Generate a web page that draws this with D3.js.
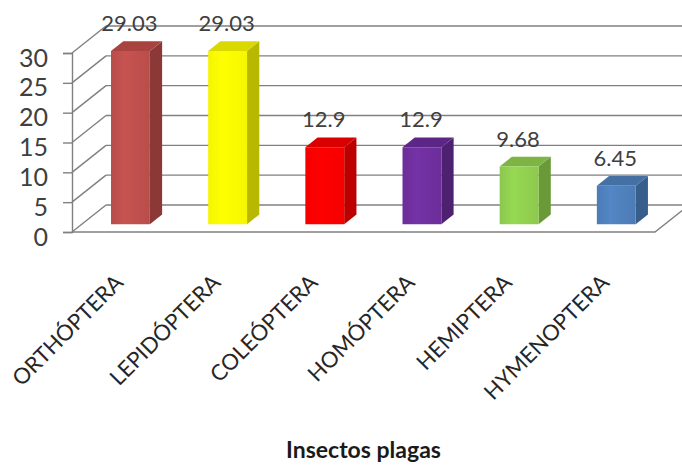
<!DOCTYPE html>
<html>
<head>
<meta charset="utf-8">
<script src="https://cdn.jsdelivr.net/npm/d3@7"></script>
<style>
  html, body { margin: 0; padding: 0; background: #fff; }
  svg { display: block; }
</style>
</head>
<body>
<svg id="chart" width="682" height="467"></svg>
<script>
// Porcentaje de insectos plaga por orden
const categories = ["ORTHÓPTERA", "LEPIDÓPTERA", "COLEÓPTERA", "HOMÓPTERA", "HEMIPTERA", "HYMENOPTERA"];
const values = [29.03, 29.03, 12.9, 12.9, 9.68, 6.45];
const valueLabels = ["29.03", "29.03", "12.9", "12.9", "9.68", "6.45"];
const yTicks = [0, 5, 10, 15, 20, 25, 30];
const axisTitle = "Insectos plagas";

// colours per bar: front, side, top
const frontColors = ["#C0504D", "#FFFF00", "#FF0000", "#7030A0", "#92D050", "#4F81BD"];
const sideColors  = ["#8C3836", "#B8B800", "#BC0000", "#4E2070", "#6A9A38", "#385E8B"];
const topColors   = ["#A8433F", "#D9D900", "#DA0000", "#5C2686", "#7DB443", "#4470A4"];

const svg = d3.select("#chart");
svg.append("rect").attr("width", 682).attr("height", 467).attr("fill", "#fff");

// oblique 3D projection: depth z in [0,1]
const depthX = 34, depthY = -27;
const x = d3.scaleBand().domain(categories).range([72, 655]).paddingInner(0.6).paddingOuter(0.3);
const y = d3.scaleLinear().domain([0, 30]).range([232, 53]);
const P = (px, v, z) => [px + z * depthX, y(v) + z * depthY];
const barZ0 = 0.29, barZ1 = 0.65;

const gridColor = "#808080";
const grid = svg.append("g").attr("stroke", gridColor).attr("stroke-width", 1.4).attr("fill", "none");

// back wall gridlines
yTicks.forEach(v => {
  const a = P(72, v, 1), b = P(655, v, 1);
  grid.append("line").attr("x1", a[0]).attr("y1", a[1]).attr("x2", b[0]).attr("y2", b[1]);
});
// side wall diagonals
yTicks.forEach(v => {
  const a = P(72, v, 0), b = P(72, v, 1);
  grid.append("line").attr("x1", a[0]).attr("y1", a[1]).attr("x2", b[0]).attr("y2", b[1]);
});
// floor edges
{
  const a = P(72, 0, 0), b = P(655, 0, 0), c = P(655, 0, 1);
  grid.append("path").attr("d", `M${a}L${b}L${c}`);
}

// vertical axis
const yAxis = svg.append("g")
  .attr("transform", "translate(72,0)")
  .call(d3.axisLeft(y).tickValues(yTicks).tickSize(9).tickPadding(15).tickFormat(d3.format("d")));
yAxis.select(".domain").attr("stroke", gridColor).attr("stroke-width", 1.4);
yAxis.selectAll(".tick line").attr("stroke", gridColor).attr("stroke-width", 1.4);
yAxis.selectAll(".tick text")
  .attr("font-family", "Lato, 'Noto Sans', sans-serif")
  .attr("font-size", 25)
  .attr("fill", "#404040")
  .attr("dy", "0.72em")
  .attr("y", -5);

// gentle shading on the front faces
const defs = svg.append("defs");
frontColors.forEach((c, i) => {
  const g = defs.append("linearGradient").attr("id", "front" + i)
    .attr("x1", "0").attr("x2", "1").attr("y1", "0").attr("y2", "0");
  g.append("stop").attr("offset", "0").attr("stop-color", d3.color(c).darker(0.12));
  g.append("stop").attr("offset", "0.35").attr("stop-color", d3.color(c).brighter(0.1));
  g.append("stop").attr("offset", "1").attr("stop-color", d3.color(c).darker(0.1));
});

// bars
const bars = svg.append("g");
categories.forEach((cat, i) => {
  const v = values[i];
  const x0 = x(cat), x1 = x(cat) + x.bandwidth();
  const fbl = P(x0, 0, barZ0), fbr = P(x1, 0, barZ0), ftl = P(x0, v, barZ0), ftr = P(x1, v, barZ0);
  const bbr = P(x1, 0, barZ1), btl = P(x0, v, barZ1), btr = P(x1, v, barZ1);
  const g = bars.append("g");
  g.append("path").attr("d", `M${fbr}L${bbr}L${btr}L${ftr}Z`).attr("fill", sideColors[i]);
  g.append("path").attr("d", `M${ftl}L${ftr}L${btr}L${btl}Z`).attr("fill", topColors[i]);
  g.append("path").attr("d", `M${fbl}L${fbr}L${ftr}L${ftl}Z`).attr("fill", `url(#front${i})`);
  // value label
  g.append("text")
    .attr("x", (ftl[0] + ftr[0]) / 2 - 1)
    .attr("y", btl[1] - 10)
    .attr("text-anchor", "middle")
    .attr("font-family", "Lato, 'Noto Sans', sans-serif")
    .attr("font-size", 22)
    .attr("fill", "#404040")
    .text(valueLabels[i]);
});

// category axis
const xAxis = svg.append("g")
  .attr("transform", "translate(0,232)")
  .call(d3.axisBottom(x).tickSize(0));
xAxis.select(".domain").remove();
xAxis.selectAll(".tick text")
  .attr("x", 0).attr("y", 0).attr("dy", 0)
  .attr("transform", "translate(4,52) rotate(-45)")
  .attr("text-anchor", "end")
  .attr("font-family", "Lato, 'Noto Sans', sans-serif")
  .attr("font-size", 22)
  .attr("fill", "#262626");

// axis title
svg.append("text")
  .attr("x", (72 + 655) / 2)
  .attr("y", 458)
  .attr("text-anchor", "middle")
  .attr("font-family", "Lato, 'Noto Sans', sans-serif")
  .attr("font-weight", "bold")
  .attr("font-size", 23)
  .attr("fill", "#1a1a1a")
  .text(axisTitle);
</script>
</body>
</html>
